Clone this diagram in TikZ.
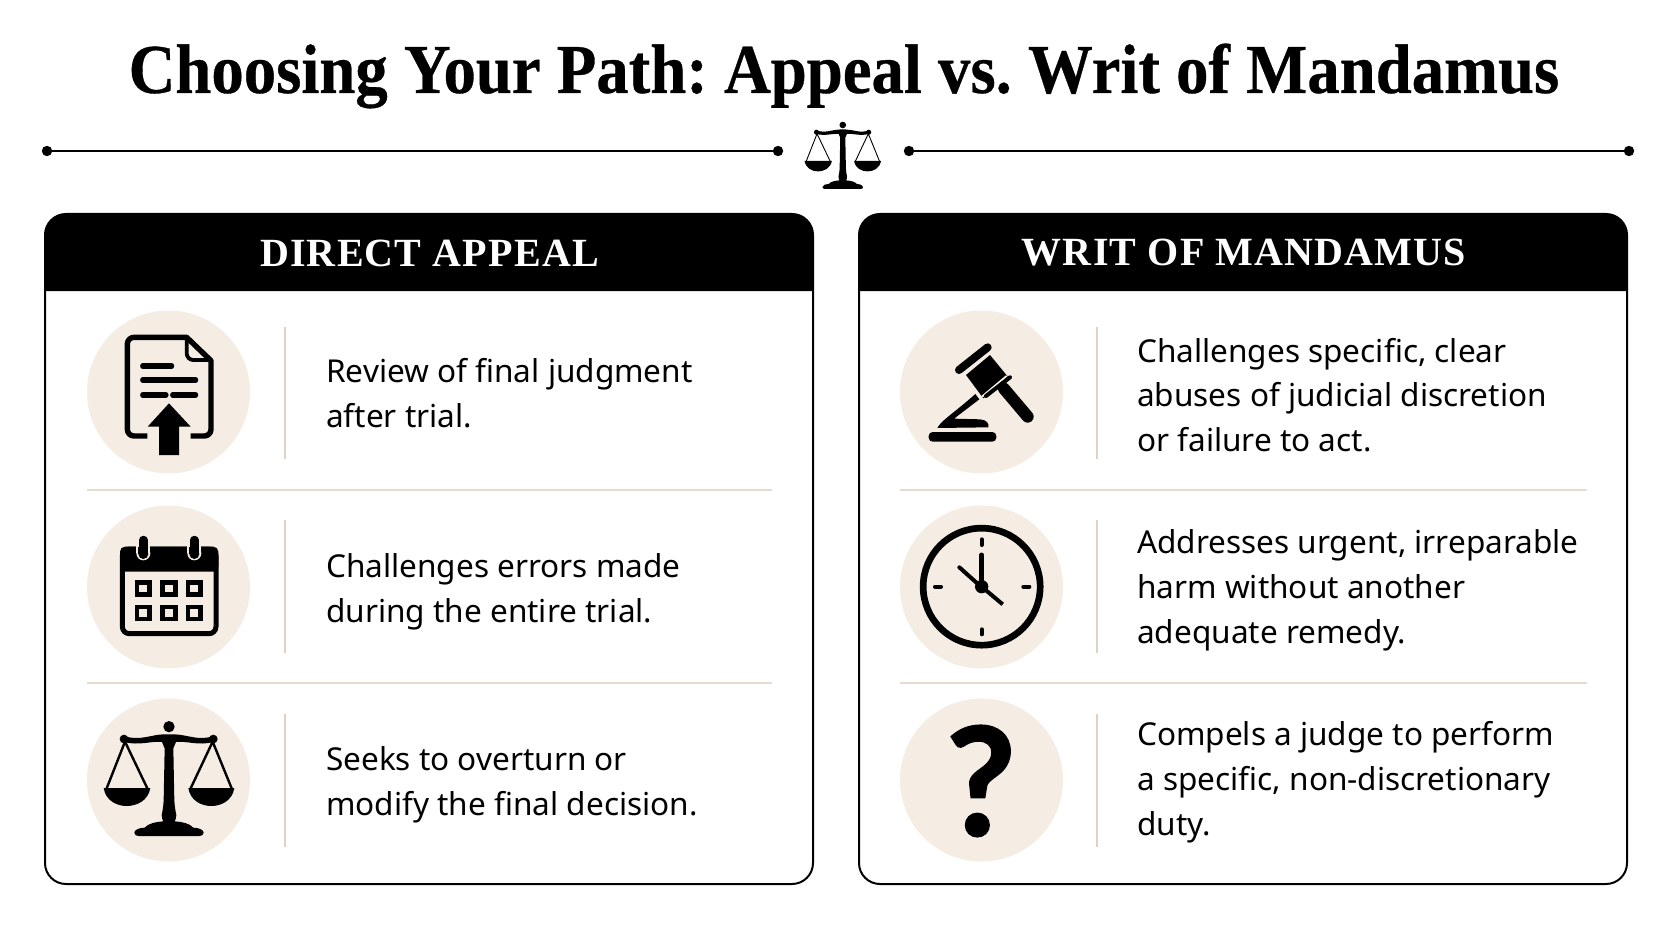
\documentclass[tikz,border=0pt]{standalone}
\usepackage{graphicx}
\usepackage{fontspec}
\setmainfont{Noto Sans}
\newfontfamily\titlefont[BoldFeatures={FakeBold=0.5}]{Liberation Serif}
\newfontfamily\headfont[LetterSpace=3]{Liberation Serif}
\newfontfamily\qfont[BoldFeatures={FakeBold=1.6}]{Lato}
\definecolor{cream}{HTML}{F5EDE4}
\definecolor{rulec}{HTML}{E6DBCE}
\definecolor{vrulec}{HTML}{DDD2C5}
\tikzset{
  panel/.style={draw=black,line width=2pt,rounded corners=21pt},
  iconbg/.style={circle,fill=cream,draw=none,minimum size=163pt,inner sep=0pt},
  hrule/.style={rulec,line width=2.6pt},
  vrule/.style={vrulec,line width=2.6pt},
  body/.style={anchor=west,align=left,inner sep=0pt,text=black,font=\fontsize{31.55}{44.8}\selectfont},
  headtext/.style={text=white,inner sep=0pt,font=\headfont\bfseries\fontsize{40}{44}\selectfont},
  ln/.style={line cap=round,line width=#1,draw=black},
}
% balance scales, drawn on a local grid with post at x=327
\newcommand{\balance}[1]{%
  \fill[black] (327,140) circle (17);
  \fill[black] (192,177) circle (13);
  \fill[black] (460,177) circle (13);
  \fill[black] (192,168) .. controls (240,184) and (275,163) .. (312,163)
     -- (342,163) .. controls (380,163) and (415,184) .. (460,168)
     -- (460,186) .. controls (415,198) and (380,182) .. (348,186)
     -- (340,205) -- (343,360) .. controls (344,380) and (346,390) .. (349,405)
     .. controls (349,415) and (346,420) .. (344,424)
     .. controls (369,426) and (388,430) .. (400,443)
     .. controls (417,443) and (431,450) .. (431,458)
     .. controls (431,465) and (425,468) .. (418,468) -- (236,468)
     .. controls (229,468) and (223,465) .. (223,458)
     .. controls (223,450) and (237,443) .. (254,443)
     .. controls (266,430) and (285,426) .. (310,424)
     .. controls (308,420) and (305,415) .. (305,405)
     .. controls (308,390) and (310,380) .. (311,360) -- (314,205) -- (306,186)
     .. controls (274,182) and (239,198) .. (192,186) -- cycle;
  \draw[black,line width=#1,line join=round] (140,325) -- (195,185) -- (262,325);
  \draw[black,line width=#1,line join=round] (392,325) -- (458,185) -- (515,325);
  \fill[black] (131,324) -- (271,324) .. controls (265,362) and (230,378) .. (200,378)
     .. controls (170,378) and (137,362) .. (131,324) -- cycle;
  \fill[black] (385,324) -- (523,324) .. controls (517,362) and (484,378) .. (454,378)
     .. controls (424,378) and (391,362) .. (385,324) -- cycle;
}
\begin{document}
\begin{tikzpicture}[x=1pt,y=-1pt]
\useasboundingbox[fill=white] (0,0) rectangle (1672,941);

% Title
\node[inner sep=0pt,font=\titlefont\bfseries\fontsize{70}{72}\selectfont] (title) at (844,76) {\frenchspacing\scalebox{0.925}[1]{Choosing Your Path: Appeal vs. Writ of Mandamus}};

% Title rule
\coordinate (la) at (47,151); \coordinate (lb) at (778,151);
\coordinate (ra) at (909,151); \coordinate (rb) at (1629,151);
\draw[black,line width=2.2pt] (la) -- (lb);
\draw[black,line width=2.2pt] (ra) -- (rb);
\foreach \p in {la,lb,ra,rb} \fill[black] (\p) circle (5.2);
\begin{scope}[shift={(779,97.7)},scale=0.195]
  \balance{0.9pt}
\end{scope}

% Panels
\foreach \x/\n in {45/a,859/b}{
  \fill[black] (\x,291) -- (\x,235) arc[start angle=180,end angle=270,radius=21] -- (\x+747,214) arc[start angle=270,end angle=360,radius=21] -- (\x+768,291) -- cycle;
  \draw[panel] (\x,214) rectangle (\x+768,884);
}
\node[headtext] (h1) at (429.5,253) {DIRECT APPEAL};
\node[headtext] (h2) at (1244,253) {WRIT OF MANDAMUS};

% Rows
\foreach \x/\r in {87/772,900/1587}{
  \draw[hrule] (\x,490) -- (\r,490);
  \draw[hrule] (\x,683) -- (\r,683);
}
\foreach \x in {285,1097}{
  \draw[vrule] (\x,327) -- (\x,459);
  \draw[vrule] (\x,520) -- (\x,653);
  \draw[vrule] (\x,714) -- (\x,847);
}
\node[iconbg] (c1) at (168.5,392) {};
\node[iconbg] (c2) at (168.5,587) {};
\node[iconbg] (c3) at (168.5,780) {};
\node[iconbg] (c4) at (981.5,392) {};
\node[iconbg] (c5) at (981.5,587) {};
\node[iconbg] (c6) at (981.5,780) {};

% Texts
\node[body] (t1) at (326,393) {Review of final judgment\\after trial.};
\node[body] (t2) at (326,591.5) {Challenges errors made\\during the entire trial.};
\node[body] (t3) at (326,785) {Seeks to overturn or\\modify the final decision.};
\node[body] (t4) at (1137,395) {Challenges specific, clear\\abuses of judicial discretion\\or failure to act.};
\node[body] (t5) at (1137,590.5) {Addresses urgent, irreparable\\harm without another\\adequate remedy.};
\node[body] (t6) at (1137,782.5) {Compels a judge to perform\\a specific, non-discretionary\\duty.};

% Document icon
\begin{scope}[shift={(60,290)},scale=1/3]
  \draw[black,line width=5.4pt,line join=round] (262,438) -- (222,438) arc[start angle=90,end angle=180,radius=20] -- (202,162) arc[start angle=180,end angle=270,radius=20] -- (380,142) -- (453,212) -- (453,418) arc[start angle=0,end angle=90,radius=20] -- (392,438);
  \draw[black,line width=3.8pt,line join=round] (380,142) -- (380,190) arc[start angle=180,end angle=90,radius=20] -- (453,210);
  \draw[ln=5.2pt] (248,228) -- (335,228);
  \draw[ln=5.2pt] (248,270) -- (407,270);
  \draw[ln=5.2pt] (248,315) -- (318,315);
  \draw[ln=5.2pt] (338,315) -- (407,315);
  \fill[black] (327,340) -- (392,410) -- (357,410) -- (357,495) -- (297,495) -- (297,410) -- (263,410) -- cycle;
\end{scope}

% Calendar icon
\begin{scope}[shift={(60,290)},scale=1/3]
  \draw[black,line width=5pt,rounded corners=7pt] (187,777) rectangle (468,1031);
  \fill[black,rounded corners=5pt] (180,845) -- (180,770) -- (475,770) -- (475,845) -- cycle;
  \foreach \x in {250,403}{
    \fill[cream] (\x-21,760) rectangle (\x+21,790);
    \fill[cream] (\x,790) circle (21);
    \fill[black] (\x-15,765) rectangle (\x+15,792);
    \fill[black] (\x,792) circle (15);
    \fill[cream] (\x-21,755) rectangle (\x+21,772);
    \draw[ln=8.5pt] (\x,750) -- (\x,785);
  }
  \foreach \x in {225,302,378}\foreach \y in {872,945}{
    \draw[black,line width=4.4pt,fill=cream] (\x+6,\y+6) rectangle (\x+44,\y+42);
  }
\end{scope}

% Large scales
\begin{scope}[shift={(60,680)},scale=1/3]
  \balance{2.4pt}
\end{scope}

% Gavel
\begin{scope}[shift={(880,290)},scale=1/3]
  \draw[ln=8pt] (237,240) -- (323,172);
  \fill[black] (258,255) -- (330,195) -- (385,262) -- (310,325) -- cycle;
  \draw[cream,line width=2pt] (306,320) -- (380,258);
  \draw[ln=4pt] (318,318) -- (390,262);
  \draw[ln=12pt] (372,296) -- (443,380);
  \fill[black] (286,312) -- (298,328) -- (222,386) -- (300,388) .. controls (320,390) and (328,400) .. (325,412) -- (172,414) .. controls (185,390) and (215,375) .. (286,312) -- cycle;
  \fill[black,rounded corners=4pt] (146,426) rectangle (349,455);
\end{scope}

% Clock
\begin{scope}[shift={(880,290)},scale=1/3]
  \draw[black,line width=6.7pt] (305,890) circle (175.5);
  \draw[ln=4pt] (305,748) -- (305,765);
  \draw[ln=4pt] (305,1018) -- (305,1033);
  \draw[ln=4pt] (165,890) -- (183,890);
  \draw[ln=4pt] (430,890) -- (448,890);
  \draw[ln=5pt] (305,795) -- (305,890);
  \draw[ln=4pt] (238,832) -- (305,892);
  \draw[black,line width=4pt] (305,890) -- (368,943);
  \fill[black] (305,890) circle (20);
\end{scope}

% Question mark
\node[inner sep=0pt,text=black,font=\qfont\bfseries\fontsize{150}{150}\selectfont] (q) at (981,781) {?};
\end{tikzpicture}
\end{document}
